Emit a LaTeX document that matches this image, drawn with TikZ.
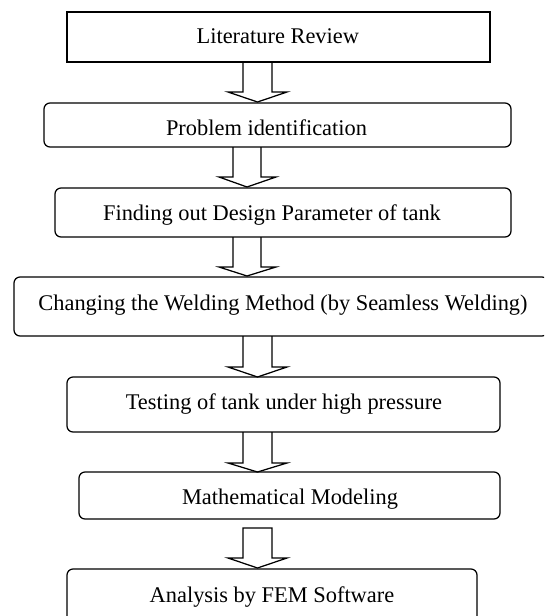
\documentclass[tikz,border=0pt]{standalone}
\usepackage{fontspec}
\setmainfont{Liberation Serif}
\begin{document}
\begin{tikzpicture}[x=1pt,y=-1pt,
  box/.style={draw=black, line width=1.25pt, inner sep=0pt, outer sep=0pt, fill=none},
  rbox/.style={box, rounded corners=6pt},
  lbl/.style={anchor=base, inner sep=0pt, font=\fontsize{22.4}{26}\selectfont},
  barrow/.style={draw=black, line width=1.25pt, line join=miter}]
\useasboundingbox (0,0) rectangle (544,616);
\clip (0,0) rectangle (544,616);
\fill[white] (0,0) rectangle (544,616);
% boxes
\node[box,  minimum width=423pt, minimum height=50pt] (b1) at (278.5,37) {};
\node[rbox, minimum width=467pt, minimum height=44pt] (b2) at (277.5,125) {};
\node[rbox, minimum width=456pt, minimum height=49pt] (b3) at (283,212.5) {};
\node[rbox, minimum width=534pt, minimum height=59pt] (b4) at (281,306.5) {};
\node[rbox, minimum width=433pt, minimum height=55pt] (b5) at (283.5,404.5) {};
\node[rbox, minimum width=421pt, minimum height=47pt] (b6) at (289.5,495.5) {};
\node[rbox, minimum width=410pt, minimum height=56pt] (b7) at (272,597) {};
% texts
\node[lbl] (t1) at (277.8,43) {Literature Review};
\node[lbl] (t2) at (266.5,135) {Problem identification};
\node[lbl] (t3) at (272,220) {Finding out Design Parameter of tank};
\node[lbl] (t4) at (283,310) {Changing the Welding Method (by Seamless Welding)};
\node[lbl] (t5) at (284,409) {Testing of tank under high pressure};
\node[lbl] (t6) at (290,504) {Mathematical Modeling};
\node[lbl] (t7) at (272,602) {Analysis by FEM Software};
% block arrows (open at top, joined to the box above)
\draw[barrow] (243,62) -- (243,92) -- (228,92) -- (257.5,102) -- (287,92) -- (272,92) -- (272,62);
\draw[barrow] (233,147) -- (233,177) -- (219,177) -- (247,187) -- (276,177) -- (261,177) -- (261,147);
\draw[barrow] (233,237) -- (233,267) -- (219,267) -- (247,276) -- (276,267) -- (261,267) -- (261,237);
\draw[barrow] (243,336) -- (243,367) -- (228,367) -- (257.5,377) -- (287,367) -- (272,367) -- (272,336);
\draw[barrow] (243,432) -- (243,463) -- (228,463) -- (257.5,472) -- (287,463) -- (272,463) -- (272,432);
% last arrow, closed at top
\draw[barrow] (243,528) -- (243,558) -- (228,558) -- (257.5,568) -- (287,558) -- (272,558) -- (272,528) -- cycle;
\end{tikzpicture}
\end{document}
